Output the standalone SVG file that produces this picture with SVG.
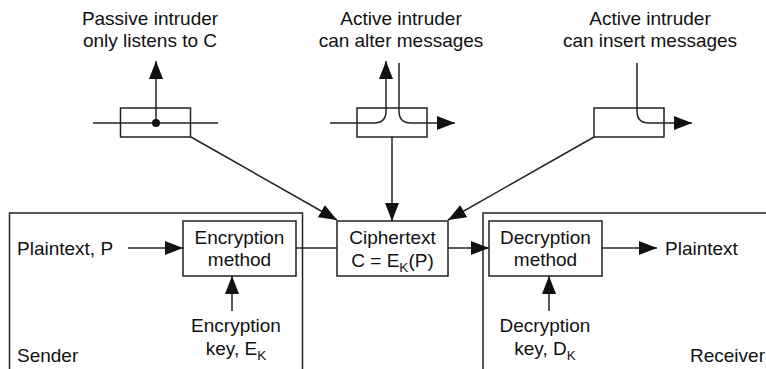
<svg xmlns="http://www.w3.org/2000/svg" width="766" height="369" viewBox="0 0 766 369">
<defs>
<marker id="ah" markerUnits="userSpaceOnUse" markerWidth="18" markerHeight="14" viewBox="0 0 18 14" refX="18" refY="7" orient="auto">
<path d="M0,0 L18,7 L0,14 Z" fill="#111"/>
</marker>
</defs>
<style>
text{font-family:"Liberation Sans",Arial,sans-serif;font-size:19px;fill:#111}
.c{text-anchor:middle}
.e{text-anchor:end}
.sub{font-size:13.5px}
.b{fill:none;stroke:#222;stroke-width:1.5}
.l{fill:none;stroke:#222;stroke-width:1.5}
.a{fill:none;stroke:#222;stroke-width:1.5;marker-end:url(#ah)}
</style>
<rect width="766" height="369" fill="#fff"/>
<g id="sender">
<rect class="b" x="9.5" y="213" width="293" height="170"/>
<text x="17" y="362">Sender</text>
</g>
<g id="receiver">
<rect class="b" x="483" y="213" width="300" height="170"/>
<text class="e" x="765" y="362">Receiver</text>
</g>
<g id="passive">
<text class="c" x="150" y="25">Passive intruder</text>
<text class="c" x="150" y="47">only listens to C</text>
<rect class="b" x="120.5" y="108" width="70" height="29"/>
<line class="l" x1="93" y1="123" x2="218" y2="123"/>
<path class="a" d="M156,123 V61"/>
<circle cx="156" cy="123" r="4" fill="#111"/>
</g>
<g id="alter">
<text class="c" x="401" y="25">Active intruder</text>
<text class="c" x="401" y="47">can alter messages</text>
<rect class="b" x="357" y="108" width="70" height="29"/>
<path class="a" d="M330,123 H374 Q386,123 386,111 V61"/>
<path class="a" d="M399,63 V111 Q399,123 411,123 H455"/>
</g>
<g id="insert">
<text class="c" x="650" y="25">Active intruder</text>
<text class="c" x="650" y="47">can insert messages</text>
<rect class="b" x="594" y="108" width="70" height="29"/>
<path class="a" d="M637,63 V111 Q637,123 649,123 H692"/>
</g>
<g id="plaintext-in">
<text x="17" y="255">Plaintext, P</text>
</g>
<g id="encryption">
<rect class="b" x="183" y="221" width="113" height="55"/>
<text class="c" x="239.5" y="244">Encryption</text>
<text class="c" x="239.5" y="266">method</text>
</g>
<g id="enc-key">
<text class="c" x="236" y="332">Encryption</text>
<text class="c" x="236" y="355">key, E<tspan class="sub" dy="5">K</tspan></text>
</g>
<g id="ciphertext">
<rect class="b" x="337" y="221" width="111" height="55"/>
<text class="c" x="392.5" y="244">Ciphertext</text>
<text class="c" x="392.5" y="267">C = E<tspan class="sub" dy="5">K</tspan><tspan dy="-5">(P)</tspan></text>
</g>
<g id="decryption">
<rect class="b" x="489" y="221" width="113" height="55"/>
<text class="c" x="545.5" y="244">Decryption</text>
<text class="c" x="545.5" y="266">method</text>
</g>
<g id="dec-key">
<text class="c" x="545" y="332">Decryption</text>
<text class="c" x="545" y="355">key, D<tspan class="sub" dy="5">K</tspan></text>
</g>
<g id="plaintext-out">
<text x="665" y="255">Plaintext</text>
</g>
<g id="connectors">
<path class="a" d="M191,137 L337,220"/>
<path class="a" d="M392,137 V221"/>
<path class="a" d="M594,137 L448,220"/>
<path class="a" d="M128,248 H183"/>
<path class="l" d="M296,248 H337"/>
<path class="a" d="M448,248 H489"/>
<path class="a" d="M602,248 H657"/>
<path class="a" d="M232,311 V276"/>
<path class="a" d="M549,311 V276"/>
</g>
</svg>
